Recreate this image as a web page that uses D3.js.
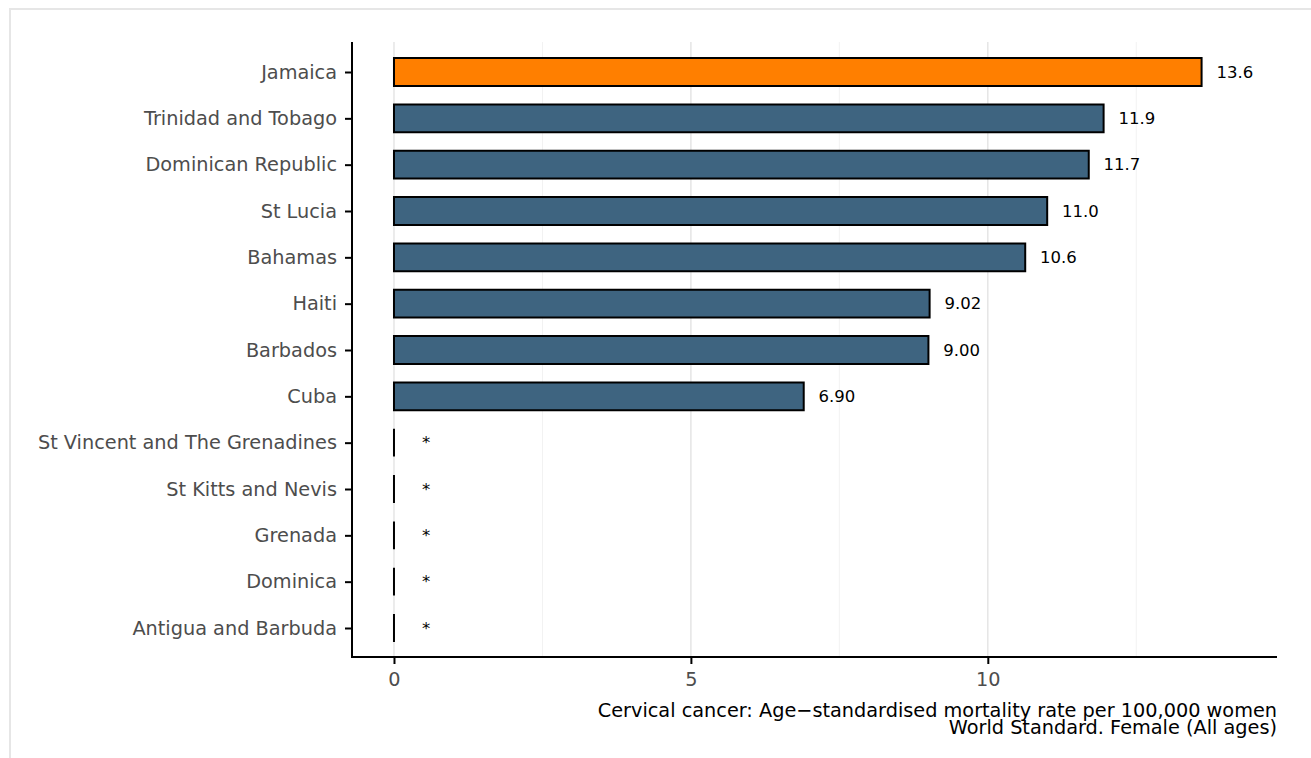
<!DOCTYPE html>
<html>
<head>
<meta charset="utf-8">
<script src="https://cdn.jsdelivr.net/npm/d3@7"></script>
<style>
  html, body { margin: 0; padding: 0; background: #fff; }
  svg { display: block; font-family: "DejaVu Sans", sans-serif; }
</style>
</head>
<body>
<svg id="chart" width="1311" height="758"></svg>
<script>
const countries = ["Jamaica", "Trinidad and Tobago", "Dominican Republic", "St Lucia", "Bahamas", "Haiti", "Barbados", "Cuba", "St Vincent and The Grenadines", "St Kitts and Nevis", "Grenada", "Dominica", "Antigua and Barbuda"];
const values = [13.6, 11.95, 11.7, 11.0, 10.63, 9.02, 9.00, 6.90, 0, 0, 0, 0, 0];
const valueLabels = ["13.6", "11.9", "11.7", "11.0", "10.6", "9.02", "9.00", "6.90", "*", "*", "*", "*", "*"];
const highlight = "Jamaica";
const xTicks = [0, 5, 10];
const xMinorTicks = [2.5, 7.5, 12.5];
const xTitleLines = ["Cervical cancer: Age\u2212standardised mortality rate per 100,000 women", "World Standard. Female (All ages)"];

(function () {
const svg = d3.select("#chart");
const W = 1311, H = 758;

// outer frame
svg.append("rect").attr("x", 10).attr("y", 9).attr("width", W + 20).attr("height", H + 20)
  .attr("fill", "none").attr("stroke", "#e6e6e6").attr("stroke-width", 2);

const pL = 352, pR = 1277, pT = 42, pB = 657;
const x = d3.scaleLinear().domain([-0.707, 14.87]).range([pL, pR]);
const yc = d3.scalePoint().domain(countries).range([72, 628]);
const step = yc.step();
const barH = step * 0.6;

// grid
svg.append("g").selectAll("line").data(xMinorTicks).join("line")
  .attr("x1", d => x(d)).attr("x2", d => x(d)).attr("y1", pT).attr("y2", pB)
  .attr("stroke", "#f2f2f2").attr("stroke-width", 1);
svg.append("g").selectAll("line").data(xTicks).join("line")
  .attr("x1", d => x(d)).attr("x2", d => x(d)).attr("y1", pT).attr("y2", pB)
  .attr("stroke", "#e5e5e5").attr("stroke-width", 1.5);

// bars (drawn as paths so zero-width bars still show their outline)
const data = countries.map((c, i) => ({ c, v: values[i], l: valueLabels[i] }));
svg.append("g").selectAll("path").data(data).join("path")
  .attr("d", d => {
    const x0 = x(0), x1 = x(d.v), y0 = yc(d.c) - barH / 2, y1 = yc(d.c) + barH / 2;
    return `M${x0},${y0}L${x1},${y0}L${x1},${y1}L${x0},${y1}Z`;
  })
  .attr("fill", d => d.c === highlight ? "#FF7F00" : "#3E6480")
  .attr("stroke", "#000").attr("stroke-width", 2);

// value labels
svg.append("g").selectAll("text").data(data).join("text")
  .attr("x", d => d.v > 0 ? x(d.v + 0.25) : x(0.47))
  .attr("y", d => yc(d.c))
  .attr("dy", "0.35em")
  .attr("font-size", 16.5).attr("fill", "#000")
  .text(d => d.l);

// y axis
const yAxis = svg.append("g").attr("transform", `translate(${pL},0)`)
  .call(d3.axisLeft(yc).tickSize(7).tickPadding(8));
yAxis.select(".domain").remove();
yAxis.selectAll(".tick line").attr("stroke", "#000").attr("stroke-width", 2);
yAxis.selectAll(".tick text").attr("font-size", 19.3).attr("fill", "#4d4d4d").attr("font-family", "DejaVu Sans, sans-serif");
svg.append("line").attr("x1", pL).attr("x2", pL).attr("y1", pT).attr("y2", pB + 1)
  .attr("stroke", "#000").attr("stroke-width", 2);

// x axis
const xAxis = svg.append("g").attr("transform", `translate(0,${pB})`)
  .call(d3.axisBottom(x).tickValues(xTicks).tickSize(7).tickPadding(8));
xAxis.select(".domain").remove();
xAxis.selectAll(".tick line").attr("stroke", "#000").attr("stroke-width", 2);
xAxis.selectAll(".tick text").attr("font-size", 19.3).attr("fill", "#4d4d4d").attr("font-family", "DejaVu Sans, sans-serif");
svg.append("line").attr("x1", pL - 1).attr("x2", pR).attr("y1", pB).attr("y2", pB)
  .attr("stroke", "#000").attr("stroke-width", 2);

// x title
svg.append("g").selectAll("text").data(xTitleLines).join("text")
  .attr("x", pR).attr("y", (d, i) => 717 + i * 17)
  .attr("text-anchor", "end").attr("font-size", 19.3).attr("fill", "#000")
  .text(d => d);
})();
</script>
</body>
</html>
